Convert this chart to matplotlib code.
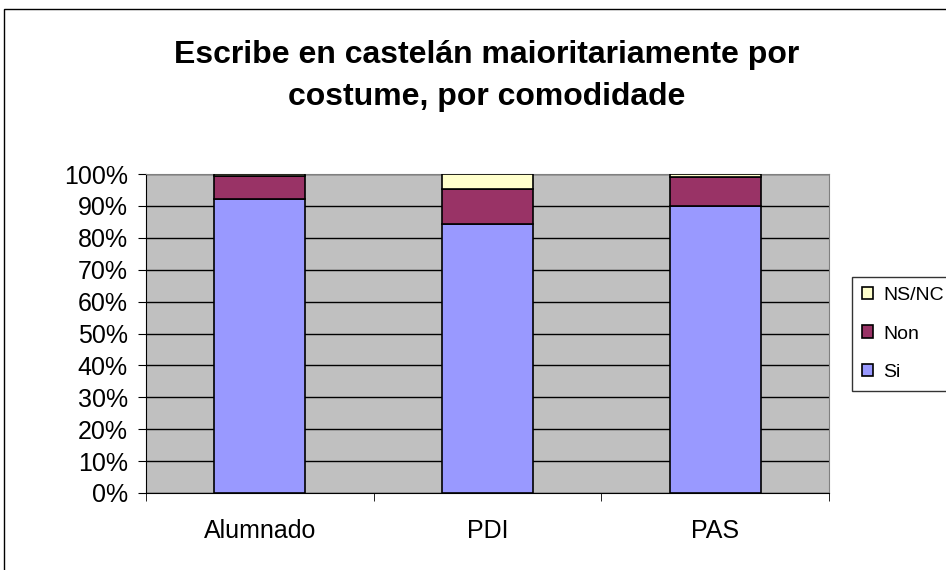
import matplotlib.pyplot as plt
import numpy as np
from matplotlib.patches import Rectangle

plt.rcParams['font.family'] = ['Liberation Sans', 'DejaVu Sans']

categories = ["Alumnado", "PDI", "PAS"]
si = [92.3, 84.3, 90.0]
non = [7.1, 11.0, 9.0]
nsnc = [0.6, 4.7, 1.0]

fig = plt.figure(figsize=(9.46, 5.70), dpi=100)
# outer chart frame (only top/left visible in the reference)
fig.patches.append(Rectangle((4 / 946, -0.1), 1.2, 1 - 9 / 570 + 0.1,
                             transform=fig.transFigure, fill=False,
                             edgecolor='black', linewidth=1))

ax = fig.add_axes([146 / 946, 1 - 493 / 570, 683 / 946, 319 / 570])
ax.set_facecolor('#C0C0C0')

x = np.arange(len(categories))
w = 0.4
kw = dict(width=w, edgecolor='black', linewidth=1.2, zorder=3)
b1 = ax.bar(x, si, color='#9999FF', label='Si', **kw)
b2 = ax.bar(x, non, bottom=si, color='#993366', label='Non', **kw)
b3 = ax.bar(x, nsnc, bottom=np.array(si) + np.array(non), color='#FFFFCC', label='NS/NC', **kw)

ax.set_xlim(-0.5, 2.5)
ax.set_ylim(0, 100)
ax.set_yticks(range(0, 101, 10))
ax.set_yticklabels([f"{v}%" for v in range(0, 101, 10)], fontsize=18)
ax.yaxis.grid(True, color='black', linewidth=1, zorder=1)
ax.set_axisbelow(True)
ax.set_xticks(x)
ax.set_xticklabels(categories, fontsize=18)
ax.tick_params(axis='x', length=0, pad=19)
ax.set_xticks([-0.5, 0.5, 1.5, 2.5], minor=True)
ax.tick_params(axis='x', which='minor', length=6, direction='out')
ax.tick_params(axis='y', length=6, direction='out', pad=7)
for side in ['top', 'right']:
    ax.spines[side].set_color('#808080')
for side in ['left', 'bottom']:
    ax.spines[side].set_color('black')

fig.text(487 / 946, 1 - 76 / 570, "Escribe en castelán maioritariamente por\ncostume, por comodidade",
         ha='center', va='center', fontsize=23, fontweight='bold', linespacing=1.5)

leg = ax.legend(handles=[b3, b2, b1], loc='center left', bbox_to_anchor=(852 / 946, 1 - 334 / 570),
                bbox_transform=fig.transFigure, fontsize=14, frameon=True, fancybox=False,
                edgecolor='black', handlelength=0.6, handleheight=0.6, handletextpad=0.5,
                labelspacing=1.1, borderpad=0.5, borderaxespad=0)
leg.get_frame().set_linewidth(1)

fig.savefig('out.png', dpi=100)
